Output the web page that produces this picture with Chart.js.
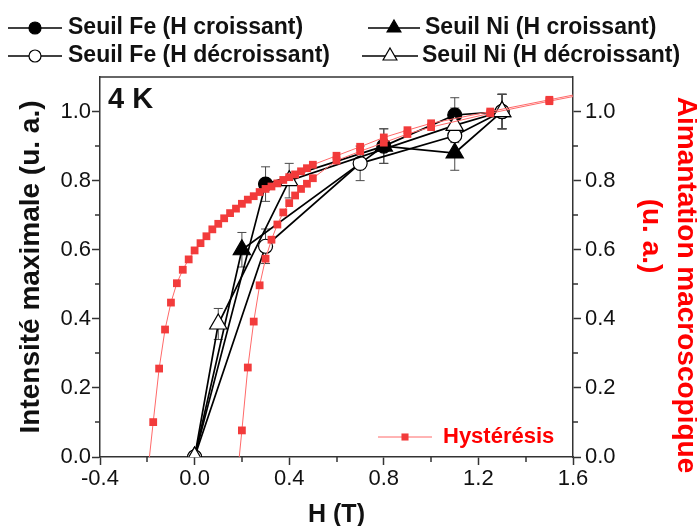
<!DOCTYPE html>
<html>
<head>
<meta charset="utf-8">
<script src="https://cdn.jsdelivr.net/npm/chart.js@4.4.1/dist/chart.umd.min.js"></script>
<style>
html,body{margin:0;padding:0;background:#fff;}
#wrap{width:697px;height:526px;position:relative;}
</style>
</head>
<body>
<div id="wrap"><canvas id="c" width="697" height="526"></canvas></div>
<script>
// ---------- tick values ----------
const xTicks = [-0.4, 0.0, 0.4, 0.8, 1.2, 1.6];
const xMinorTicks = [-0.2, 0.2, 0.6, 1.0, 1.4];
const yTicks = [0.0, 0.2, 0.4, 0.6, 0.8, 1.0];
const yMinorTicks = [0.1, 0.3, 0.5, 0.7, 0.9];

// ---------- texts ----------
const labelFeUp = 'Seuil Fe (H croissant)';
const labelNiUp = 'Seuil Ni (H croissant)';
const labelFeDown = 'Seuil Fe (H décroissant)';
const labelNiDown = 'Seuil Ni (H décroissant)';
const labelHyst = 'Hystérésis';
const xTitle = 'H (T)';
const yTitle = 'Intensité maximale (u. a.)';
const y2Title = ['Aimantation macroscopique', '(u. a.)'];
const tempLabel = '4 K';

// ---------- XMCD threshold intensities ----------
const feUpH = [0.0, 0.3, 0.8, 1.1, 1.3];
const feUpI = [0.0, 0.79, 0.90, 0.99, 1.0];
const feUpErr = [0, 0.05, 0.05, 0.05, 0.05];

const niUpH = [0.0, 0.2, 0.8, 1.1, 1.3];
const niUpI = [0.0, 0.60, 0.90, 0.88, 1.0];
const niUpErr = [0, 0.05, 0.05, 0.05, 0.05];

const feDownH = [1.3, 1.1, 0.7, 0.3, 0.0];
const feDownI = [1.0, 0.93, 0.85, 0.61, 0.0];
const feDownErr = [0.05, 0.05, 0.05, 0.05, 0];

const niDownH = [1.3, 1.1, 0.4, 0.1, 0.0];
const niDownI = [1.0, 0.96, 0.80, 0.385, 0.0];
const niDownErr = [0.05, 0.05, 0.05, 0.045, 0];

// ---------- macroscopic hysteresis loop (descending then ascending branch) ----------
const hystH = [1.8, 1.5, 1.25, 1.0, 0.9, 0.8, 0.7, 0.6, 0.5, 0.475, 0.45, 0.425, 0.4, 0.375, 0.35, 0.325, 0.3,
  0.275, 0.25, 0.225, 0.2, 0.175, 0.15, 0.125, 0.1, 0.075, 0.05, 0.025, 0.0, -0.025, -0.05, -0.075, -0.1,
  -0.125, -0.15, -0.175, -0.21,
  0.17, 0.2, 0.225, 0.25, 0.275, 0.3, 0.325, 0.35, 0.375, 0.4, 0.425, 0.45, 0.475, 0.5, 0.6, 0.7, 0.8, 0.9,
  1.0, 1.25, 1.5, 1.8];
const hystM = [1.075, 1.034, 1.0, 0.966, 0.946, 0.925, 0.898, 0.872, 0.846, 0.836, 0.827, 0.818, 0.81, 0.802, 0.792, 0.783, 0.776,
  0.767, 0.755, 0.745, 0.733, 0.719, 0.706, 0.691, 0.675, 0.659, 0.639, 0.619, 0.598, 0.572, 0.542, 0.503, 0.447,
  0.369, 0.256, 0.101, -0.12,
  -0.13, 0.077, 0.259, 0.392, 0.497, 0.574, 0.629, 0.673, 0.708, 0.735, 0.757, 0.776, 0.791, 0.807, 0.858, 0.885, 0.91, 0.935,
  0.955, 0.995, 1.03, 1.07];

const FONT = "'Liberation Sans', Arial, Helvetica, sans-serif";
const pts = (xs, ys) => xs.map((x, i) => ({x: x, y: ys[i]}));

// ---------- plugins ----------
const errorBarPlugin = {
  id: 'errorBars',
  beforeDatasetsDraw(chart) {
    const ctx = chart.ctx, xs = chart.scales.x, ys = chart.scales.y;
    ctx.save();
    ctx.strokeStyle = '#4a4a4a';
    ctx.lineWidth = 1;
    chart.data.datasets.forEach(ds => {
      if (!ds.errorBars) return;
      ds.data.forEach((p, i) => {
        const e = ds.errorBars[i];
        if (!e) return;
        const px = xs.getPixelForValue(p.x);
        const y1 = ys.getPixelForValue(p.y + e), y2 = ys.getPixelForValue(p.y - e);
        ctx.beginPath();
        ctx.moveTo(px, y1); ctx.lineTo(px, y2);
        ctx.moveTo(px - 4.5, y1); ctx.lineTo(px + 4.5, y1);
        ctx.moveTo(px - 4.5, y2); ctx.lineTo(px + 4.5, y2);
        ctx.stroke();
      });
    });
    ctx.restore();
  }
};

const frameAndMinorPlugin = {
  id: 'frameMinor',
  afterDraw(chart) {
    const ctx = chart.ctx, a = chart.chartArea;
    const xs = chart.scales.x, ys = chart.scales.y;
    ctx.save();
    ctx.strokeStyle = '#333';
    ctx.lineWidth = 1.5;
    ctx.beginPath();
    ctx.moveTo(a.left, a.top); ctx.lineTo(a.right, a.top);
    ctx.stroke();
    ctx.beginPath();
    xMinorTicks.forEach(v => {
      const px = Math.round(xs.getPixelForValue(v));
      ctx.moveTo(px, a.bottom); ctx.lineTo(px, a.bottom + 5);
    });
    yMinorTicks.forEach(v => {
      const py = Math.round(ys.getPixelForValue(v));
      ctx.moveTo(a.left - 5, py); ctx.lineTo(a.left, py);
      ctx.moveTo(a.right, py); ctx.lineTo(a.right + 5, py);
    });
    ctx.stroke();
    // temperature label
    ctx.fillStyle = '#111';
    ctx.font = 'bold 29px ' + FONT;
    ctx.textAlign = 'left';
    ctx.textBaseline = 'alphabetic';
    ctx.fillText(tempLabel, a.left + 8, a.top + 31);
    // right axis title (red, rotated clockwise)
    ctx.fillStyle = '#ff0000';
    ctx.font = 'bold 28px ' + FONT;
    ctx.textAlign = 'center';
    ctx.textBaseline = 'middle';
    ctx.save();
    ctx.translate(686, 285);
    ctx.rotate(Math.PI / 2);
    ctx.fillText(y2Title[0], 0, 0);
    ctx.restore();
    ctx.save();
    ctx.translate(651, 236);
    ctx.rotate(Math.PI / 2);
    ctx.fillText(y2Title[1], 0, 0);
    ctx.restore();
    ctx.restore();
  }
};

const legendLayout = [
  {ds: 1, x0: 8, x1: 62, tx: 68, y: 28, size: 23, r: 6},
  {ds: 2, x0: 368, x1: 420, tx: 425, y: 28, size: 23, r: 8},
  {ds: 3, x0: 8, x1: 62, tx: 68, y: 56, size: 23, r: 6},
  {ds: 4, x0: 362, x1: 418, tx: 422, y: 56, size: 23, r: 8},
  {ds: 0, x0: 378, x1: 432, tx: 443, y: 437, size: 22, r: 5, color: '#ff0000'}
];

const legendPlugin = {
  id: 'customLegend',
  afterDraw(chart) {
    const ctx = chart.ctx;
    ctx.save();
    legendLayout.forEach(it => {
      const ds = chart.data.datasets[it.ds];
      ctx.strokeStyle = ds.borderColor;
      ctx.lineWidth = it.ds === 0 ? 1 : 1.6;
      ctx.beginPath();
      ctx.moveTo(it.x0, it.y); ctx.lineTo(it.x1, it.y);
      ctx.stroke();
      ctx.fillStyle = ds.pointBackgroundColor;
      ctx.strokeStyle = ds.pointBorderColor;
      ctx.lineWidth = ds.pointBorderWidth;
      Chart.helpers.drawPoint(ctx, {pointStyle: ds.pointStyle, radius: it.r, rotation: 0, borderWidth: ds.pointBorderWidth}, (it.x0 + it.x1) / 2, it.y);
      ctx.fillStyle = it.color || '#111';
      ctx.font = 'bold ' + it.size + 'px ' + FONT;
      ctx.textAlign = 'left';
      ctx.textBaseline = 'middle';
      ctx.fillText(ds.label, it.tx, it.y);
    });
    ctx.restore();
  }
};

// ---------- datasets ----------
function blackSeries(label, xs, ys, errs, style, filled, radius, order) {
  return {
    label: label,
    data: pts(xs, ys),
    errorBars: errs,
    showLine: true,
    borderColor: '#000',
    borderWidth: 1.7,
    pointStyle: style,
    pointRadius: radius,
    pointHoverRadius: radius,
    pointBackgroundColor: filled ? '#000' : '#fff',
    pointBorderColor: '#000',
    pointBorderWidth: 1.2,
    yAxisID: 'y',
    order: order
  };
}

const datasets = [
  {
    label: labelHyst,
    data: pts(hystH, hystM),
    showLine: true,
    borderColor: 'rgba(255,105,105,1)',
    borderWidth: 1,
    pointStyle: 'rect',
    pointRadius: 5.5,
    pointHoverRadius: 5.5,
    pointBackgroundColor: '#f23b3b',
    pointBorderColor: '#f23b3b',
    pointBorderWidth: 0,
    yAxisID: 'y2',
    order: 0
  },
  blackSeries(labelFeUp, feUpH, feUpI, feUpErr, 'circle', true, 7, 4),
  blackSeries(labelNiUp, niUpH, niUpI, niUpErr, 'triangle', true, 10, 3),
  blackSeries(labelFeDown, feDownH, feDownI, feDownErr, 'circle', false, 7, 2),
  blackSeries(labelNiDown, niDownH, niDownI, niDownErr, 'triangle', false, 10, 1)
];

new Chart(document.getElementById('c'), {
  type: 'scatter',
  data: {datasets: datasets},
  options: {
    responsive: false,
    animation: false,
    devicePixelRatio: 1,
    layout: {padding: {top: 77, left: 0, right: 0, bottom: 0}},
    plugins: {legend: {display: false}, tooltip: {enabled: false}},
    scales: {
      x: {
        type: 'linear', min: -0.4, max: 1.6,
        afterBuildTicks: s => { s.ticks = xTicks.map(v => ({value: v})); },
        afterFit: s => { s.height = 69; },
        ticks: {callback: v => Number(v).toFixed(1), color: '#111', padding: 1, maxRotation: 0, autoSkip: false, font: {family: FONT, size: 22, lineHeight: 1.2}},
        grid: {drawOnChartArea: false, tickLength: 8, tickColor: '#333', tickWidth: 1.5},
        border: {color: '#333', width: 1.5},
        title: {display: true, text: xTitle, color: '#111', font: {family: FONT, size: 25, weight: 'bold', lineHeight: 0.9}, padding: {top: 0, bottom: 0}}
      },
      y: {
        type: 'linear', position: 'left', min: 0, max: 1.1,
        afterBuildTicks: s => { s.ticks = yTicks.map(v => ({value: v})); },
        afterFit: s => { s.width = 100; },
        ticks: {callback: v => Number(v).toFixed(1), color: '#111', padding: 1, font: {family: FONT, size: 22}},
        grid: {drawOnChartArea: false, tickLength: 8, tickColor: '#333', tickWidth: 1.5},
        border: {color: '#333', width: 1.5},
        title: {display: true, text: yTitle, color: '#111', font: {family: FONT, size: 28, weight: 'bold', lineHeight: 1.2}, padding: {top: 14, bottom: 0}}
      },
      y2: {
        type: 'linear', position: 'right', min: 0, max: 1.1,
        afterBuildTicks: s => { s.ticks = yTicks.map(v => ({value: v})); },
        afterFit: s => { s.width = 124; },
        ticks: {callback: v => Number(v).toFixed(1), color: '#111', padding: 4, font: {family: FONT, size: 22}},
        grid: {drawOnChartArea: false, tickLength: 8, tickColor: '#333', tickWidth: 1.5},
        border: {color: '#333', width: 1.5},
        title: {display: false, text: y2Title}
      }
    }
  },
  plugins: [errorBarPlugin, frameAndMinorPlugin, legendPlugin]
});
</script>
</body>
</html>
